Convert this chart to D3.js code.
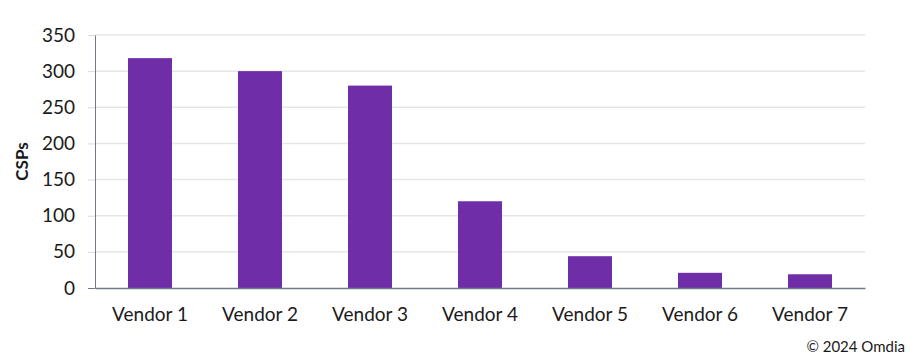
<!DOCTYPE html>
<html>
<head>
<meta charset="utf-8">
<script src="https://cdn.jsdelivr.net/npm/d3@7"></script>
<style>
  body { margin: 0; background: #fff; }
  svg text { font-family: Lato, "Open Sans", sans-serif; fill: #1a1a1a; }
</style>
</head>
<body>
<div id="chart"></div>
<script>
const vendors = ["Vendor 1", "Vendor 2", "Vendor 3", "Vendor 4", "Vendor 5", "Vendor 6", "Vendor 7"];
const csps = [318, 300, 280, 120, 44, 21, 19];
const yTicks = [0, 50, 100, 150, 200, 250, 300, 350];

const w = 910, h = 360;
const margin = { top: 35, right: 45, bottom: 72, left: 95 };

const svg = d3.select("#chart").append("svg")
  .attr("width", w)
  .attr("height", h);

const x = d3.scaleBand()
  .domain(vendors)
  .range([margin.left, w - margin.right])
  .paddingInner(0.6)
  .paddingOuter(0.3);

const y = d3.scaleLinear()
  .domain([0, 350])
  .range([h - margin.bottom, margin.top]);

// gridlines
svg.append("g")
  .selectAll("line")
  .data(yTicks.filter(d => d > 0))
  .join("line")
  .attr("x1", margin.left)
  .attr("x2", w - margin.right)
  .attr("y1", d => y(d))
  .attr("y2", d => y(d))
  .style("stroke", "#e6e6e6")
  .style("stroke-width", "1.5px");

// y axis
const yAxis = svg.append("g")
  .attr("transform", "translate(" + margin.left + ",0)")
  .call(d3.axisLeft(y).tickValues(yTicks).tickSize(7).tickSizeOuter(0).tickPadding(13));
yAxis.select(".domain").style("stroke", "#6e7a86").style("stroke-width", "1px");
yAxis.selectAll(".tick line").style("stroke", d => d === 0 ? "#6e7a86" : "#d9d9d9");
yAxis.selectAll(".tick text")
  .style("font-size", "19px")
  .style("font-family", "Lato, sans-serif")
  .attr("fill", "#1a1a1a");

svg.selectAll(".bar")
  .data(csps)
  .join("rect")
  .attr("class", "bar")
  .attr("x", (d, i) => x(vendors[i]))
  .attr("y", d => y(d))
  .attr("width", x.bandwidth())
  .attr("height", d => y(0) - y(d))
  .style("fill", "#6f2da8");

// x axis
const xAxis = svg.append("g")
  .attr("transform", "translate(0," + y(0) + ")")
  .call(d3.axisBottom(x).tickSize(0).tickPadding(20));
xAxis.select(".domain").style("stroke", "#6e7a86").style("stroke-width", "1.5px");
xAxis.selectAll(".tick text")
  .style("font-size", "19px")
  .style("font-family", "Lato, sans-serif")
  .attr("fill", "#1a1a1a");

svg.append("text")
  .attr("transform", "translate(28," + ((margin.top + y(0)) / 2) + ") rotate(-90)")
  .attr("text-anchor", "middle")
  .style("font-size", "17px")
  .style("font-weight", "bold")
  .text("CSPs");

svg.append("text")
  .attr("x", 905)
  .attr("y", 352)
  .attr("text-anchor", "end")
  .style("font-size", "15px")
  .text("© 2024 Omdia");
</script>
</body>
</html>
